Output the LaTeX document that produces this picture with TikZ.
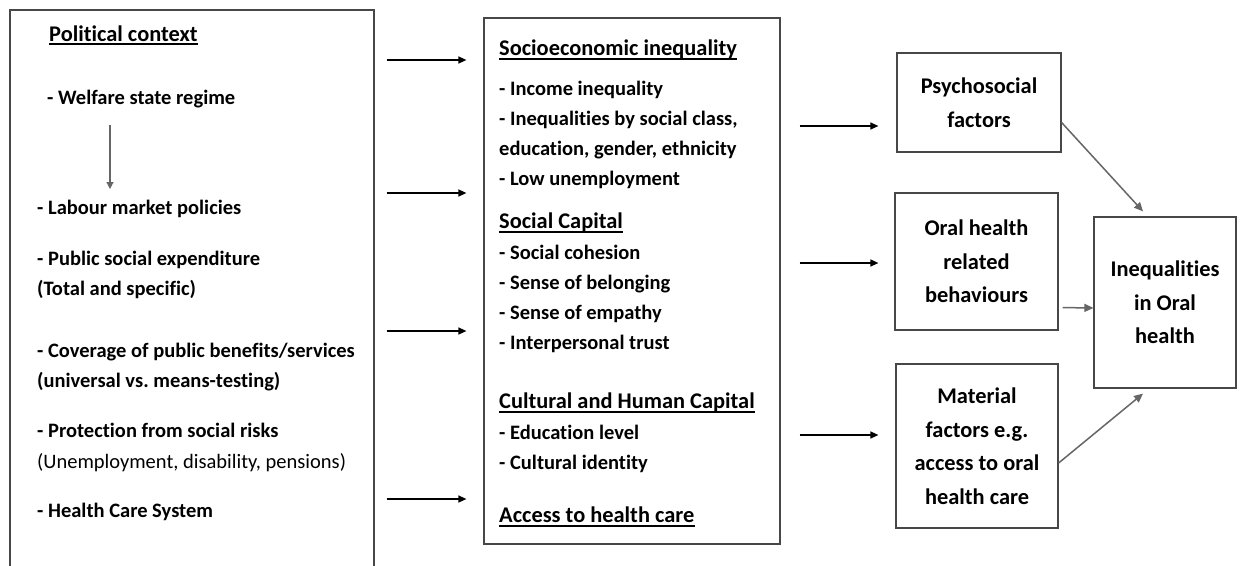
\documentclass[tikz,border=0pt]{standalone}
\usepackage{fontspec}
\setmainfont[Ligatures=NoCommon]{Carlito}
\usetikzlibrary{arrows.meta}
\frenchspacing
\begin{document}
\begin{tikzpicture}[x=1pt,y=-1pt,
  frame/.style={draw=black!72,line width=1.2pt,inner sep=0pt},
  box/.style={frame,align=center,font=\bfseries\fontsize{22.4}{33.5}\selectfont},
  head/.style={anchor=base west,inner sep=0pt,font=\bfseries\fontsize{22.4}{31}\selectfont},
  txt/.style={anchor=base west,inner sep=0pt,font=\bfseries\fontsize{20.5}{30}\selectfont},
  plain/.style={anchor=base west,inner sep=0pt,font=\fontsize{20.5}{30}\selectfont},
  ul/.style={line width=1.1pt},
  arr/.style={line width=1.4pt,-{Triangle[length=8pt,width=7pt]}},
  garr/.style={draw=black!60,line width=1.5pt,-{Triangle[length=9pt,width=8pt]}}]
\useasboundingbox (0,0) rectangle (1242,565);
\fill[white] (0,0) rectangle (1242,565);

% main boxes
\node[frame,minimum width=364pt,minimum height=558pt] (pol) at (192,289) {};
\node[frame,minimum width=296pt,minimum height=526pt] (soc) at (632,281) {};
\node[box,minimum width=164pt,minimum height=99pt] (psy) at (979,102.5) {Psychosocial\\factors};
\node[box,minimum width=163pt,minimum height=137pt] (oral) at (976.5,261.5) {Oral health\\related\\behaviours};
\node[box,minimum width=162pt,minimum height=164pt] (mat) at (977,446) {Material\\factors e.g.\\access to oral\\health care};
\node[box,minimum width=142pt,minimum height=171pt] (ineq) at (1165,302.5) {Inequalities\\in Oral\\health};

% political context list
\node[head] (h1) at (49,41) {Political context};
\draw[ul] ([yshift=-3pt]h1.base west) -- ([yshift=-3pt]h1.base east);
\node[txt] (l1) at (47,104) {- Welfare state regime};
\node[txt] (l2) at (37,214) {- Labour market policies};
\node[txt] (l3) at (37,265) {- Public social expenditure};
\node[txt] (l3b) at (37,295) {(Total and specific)};
\node[txt] (l4) at (37,357) {- Coverage of public benefits/services};
\node[txt] (l4b) at (37,387) {(universal vs. means-testing)};
\node[txt] (l5) at (37,437) {- Protection from social risks};
\node[plain] (l5b) at (37,468) {(Unemployment, disability, pensions)};
\node[txt] (l6) at (37,517) {- Health Care System};
\coordinate (w1) at (110,125);
\coordinate (w2) at (110,189);
\draw[garr,line width=1.2pt,-{Triangle[length=7pt,width=7pt]}] (w1) -- (w2);

% mediating factors list
\node[head] (s1) at (499,55) {Socioeconomic inequality};
\draw[ul] ([yshift=-4pt]s1.base west) -- ([yshift=-4pt]s1.base east);
\node[txt] (s2) at (499,95) {- Income inequality};
\node[txt] (s3) at (499,125) {- Inequalities by social class,};
\node[txt] (s4) at (499,155) {education, gender, ethnicity};
\node[txt] (s5) at (499,185) {- Low unemployment};
\node[head] (c1) at (499,228) {Social Capital};
\draw[ul] ([yshift=-4pt]c1.base west) -- ([yshift=-4pt]c1.base east);
\node[txt] (c2) at (499,259) {- Social cohesion};
\node[txt] (c3) at (499,289) {- Sense of belonging};
\node[txt] (c4) at (499,319) {- Sense of empathy};
\node[txt] (c5) at (499,349) {- Interpersonal trust};
\node[head] (k1) at (499,408) {Cultural and Human Capital};
\draw[ul] ([yshift=-4pt]k1.base west) -- ([yshift=-4pt]k1.base east);
\node[txt] (k2) at (499,439) {- Education level};
\node[txt] (k3) at (499,469) {- Cultural identity};
\node[head] (a1) at (499,522) {Access to health care};
\draw[ul] ([yshift=-4pt]a1.base west) -- ([yshift=-4pt]a1.base east);

% political context -> mediating factors
\foreach \yy in {60,193,331,499}
  \draw[arr,shorten <=12pt,shorten >=17pt] (pol.east |- 0,\yy) -- (soc.west |- 0,\yy);

% mediating factors -> pathways
\draw[arr,shorten <=19pt,shorten >=18pt] (soc.east |- 0,126) -- (psy.west |- 0,126);
\draw[arr,shorten <=19pt,shorten >=16pt] (soc.east |- 0,263) -- (oral.west |- 0,263);
\draw[arr,shorten <=19pt,shorten >=17pt] (soc.east |- 0,435) -- (mat.west |- 0,435);

% pathways -> outcome
\draw[garr] ([yshift=-20pt]psy.east) -- ([xshift=-22pt,yshift=5pt]ineq.north);
\draw[garr,shorten <=4pt] ([yshift=-46pt]oral.east) -- (ineq.west |- 0,308);
\draw[garr] ([yshift=-17pt]mat.east) -- ([xshift=-22pt,yshift=-5pt]ineq.south);
\end{tikzpicture}
\end{document}
